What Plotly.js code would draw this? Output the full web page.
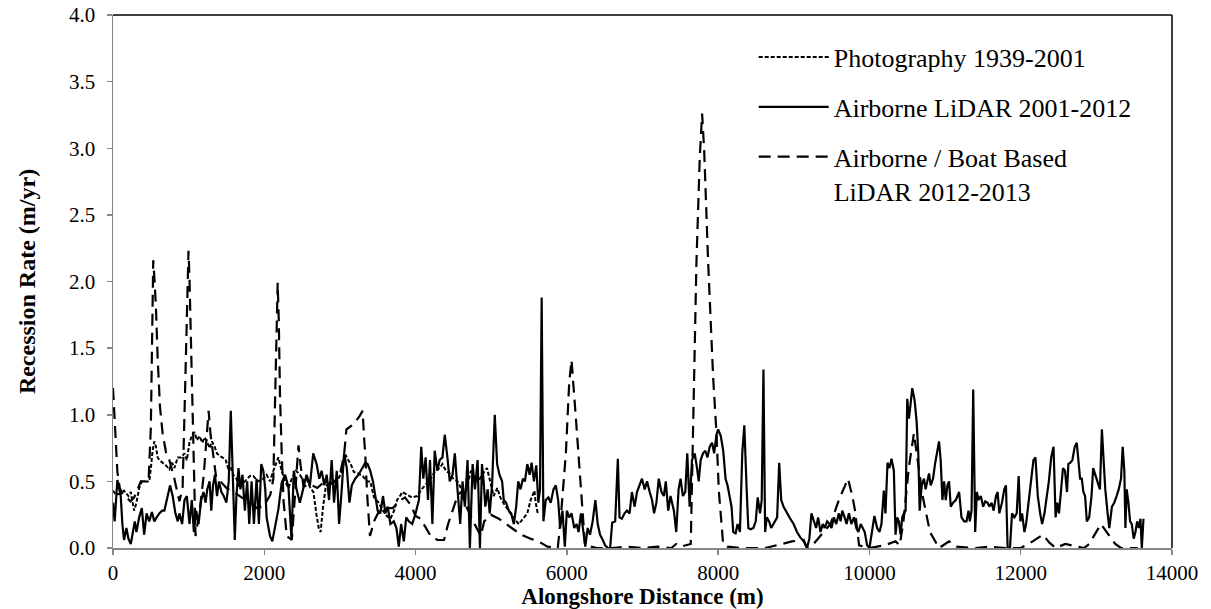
<!DOCTYPE html>
<html><head><meta charset="utf-8">
<script src="https://cdn.plot.ly/plotly-3.0.1.min.js"></script>
<style>html,body{margin:0;padding:0;background:#fff}#chart{width:1211px;height:609px}</style>
</head><body><div id="chart"></div>
<script>
// Photography 1939-2001
const photoX = [0,40,102,146,177,204,235,257,279,310,346,381,412,444,479,501,523,546,568,590,612,656,700,745,781,812,856,900,945,976,1011,1047,1078,1109,1144,1180,1211,1242,1277,1308,1344,1375,1410,1446,1490,1521,1552,1588,1632,1676,1743,1810,1854,1920,1987,2031,2075,2120,2186,2230,2275,2320,2364,2420,2470,2520,2560,2610,2650,2690,2720,2745,2775,2810,2860,2920,2980,3030,3073,3110,3150,3184,3240,3300,3360,3401,3450,3512,3570,3620,3667,3716,3756,3805,3823,3890,3950,4022,4080,4140,4200,4260,4320,4355,4400,4450,4500,4554,4600,4643,4690,4732,4780,4830,4880,4944,4990,5033,5080,5120,5170,5210,5255,5300,5366,5420,5477,5521,5550,5571,5588,5615];
const photoY = [0.43,0.40,0.41,0.43,0.41,0.39,0.42,0.34,0.28,0.34,0.45,0.50,0.50,0.50,0.50,0.60,0.73,0.80,0.76,0.68,0.66,0.64,0.62,0.59,0.64,0.60,0.68,0.68,0.71,0.66,0.79,0.85,0.87,0.81,0.84,0.79,0.83,0.80,0.75,0.80,0.76,0.71,0.69,0.68,0.66,0.60,0.61,0.55,0.52,0.45,0.50,0.54,0.54,0.50,0.52,0.55,0.50,0.58,0.68,0.58,0.50,0.45,0.52,0.58,0.55,0.50,0.52,0.45,0.42,0.25,0.15,0.12,0.30,0.45,0.50,0.48,0.52,0.58,0.70,0.66,0.62,0.57,0.56,0.54,0.50,0.50,0.38,0.34,0.28,0.24,0.22,0.28,0.36,0.40,0.42,0.40,0.38,0.39,0.44,0.48,0.52,0.58,0.60,0.63,0.58,0.56,0.52,0.50,0.45,0.39,0.48,0.58,0.52,0.50,0.55,0.60,0.48,0.39,0.45,0.38,0.33,0.30,0.26,0.22,0.18,0.22,0.26,0.36,0.40,0.43,0.34,0.26];

// Airborne LiDAR 2001-2012
const lidarX = [0,22,58,102,124,146,177,204,235,257,288,310,346,381,412,444,479,514,546,577,612,648,679,723,754,789,825,856,878,914,945,976,1011,1042,1069,1100,1131,1166,1197,1224,1246,1277,1299,1322,1348,1375,1401,1433,1464,1499,1530,1557,1588,1610,1632,1659,1685,1712,1743,1774,1801,1832,1863,1898,1929,1960,1987,2013,2031,2075,2106,2142,2186,2230,2275,2319,2359,2390,2426,2470,2514,2559,2603,2647,2692,2727,2758,2794,2825,2856,2891,2922,2958,2989,3024,3055,3091,3126,3157,3202,3246,3290,3335,3366,3401,3437,3468,3499,3534,3570,3601,3632,3667,3712,3747,3778,3809,3845,3876,3911,3956,4000,4044,4075,4102,4133,4164,4191,4222,4253,4288,4319,4355,4386,4421,4452,4488,4519,4554,4590,4621,4652,4687,4718,4754,4785,4820,4851,4878,4900,4922,4953,4980,5011,5047,5078,5109,5144,5166,5197,5233,5264,5299,5330,5357,5388,5419,5446,5477,5508,5534,5565,5596,5623,5645,5667,5690,5721,5756,5787,5823,5854,5885,5911,5942,5973,6000,6031,6062,6098,6129,6155,6186,6217,6244,6275,6306,6341,6377,6408,6439,6475,6506,6541,6572,6599,6639,6674,6696,6727,6763,6794,6829,6860,6896,6927,6962,6993,7029,7060,7095,7126,7153,7184,7215,7251,7282,7308,7340,7370,7415,7446,7477,7503,7534,7565,7592,7623,7654,7690,7721,7743,7769,7800,7831,7858,7889,7920,7947,7978,8000,8035,8067,8098,8124,8155,8177,8200,8231,8257,8288,8319,8346,8377,8399,8430,8466,8497,8523,8554,8576,8599,8621,8643,8674,8701,8732,8754,8780,8807,8834,8865,8909,8953,8998,9042,9086,9131,9175,9206,9233,9264,9295,9322,9353,9384,9410,9441,9472,9499,9530,9561,9596,9619,9641,9672,9698,9729,9761,9796,9827,9854,9885,9938,9969,10000,10035,10066,10102,10133,10159,10190,10212,10239,10265,10292,10323,10345,10367,10389,10412,10434,10456,10478,10500,10522,10544,10566,10597,10624,10646,10664,10690,10721,10743,10765,10788,10810,10841,10867,10898,10920,10942,10965,10987,11009,11031,11053,11075,11106,11142,11186,11217,11252,11283,11310,11327,11350,11372,11398,11420,11442,11473,11504,11531,11562,11584,11615,11642,11673,11695,11717,11752,11783,11805,11827,11858,11885,11916,11947,11973,11996,12018,12049,12071,12102,12137,12168,12195,12226,12257,12283,12314,12336,12372,12403,12434,12461,12483,12506,12528,12559,12585,12612,12630,12656,12683,12714,12741,12763,12785,12807,12829,12851,12874,12905,12936,12958,12985,13016,13047,13073,13095,13118,13149,13171,13206,13237,13268,13295,13326,13348,13370,13384,13401,13424,13446,13468,13494,13517,13539,13561,13583,13601,13623];
const lidarY = [0.34,0.20,0.51,0.39,0.18,0.06,0.15,0.07,0.03,0.10,0.20,0.12,0.23,0.30,0.10,0.26,0.20,0.27,0.20,0.23,0.26,0.28,0.28,0.39,0.47,0.39,0.26,0.20,0.26,0.18,0.36,0.39,0.18,0.36,0.12,0.28,0.18,0.36,0.42,0.34,0.44,0.50,0.28,0.47,0.55,0.39,0.50,0.42,0.39,0.34,0.50,1.03,0.44,0.06,0.39,0.60,0.44,0.55,0.28,0.50,0.18,0.50,0.18,0.52,0.18,0.63,0.58,0.44,0.23,0.09,0.05,0.15,0.29,0.49,0.55,0.46,0.07,0.58,0.44,0.34,0.44,0.55,0.47,0.71,0.63,0.52,0.58,0.47,0.55,0.36,0.66,0.34,0.58,0.18,0.44,0.71,0.60,0.34,0.47,0.52,0.55,0.59,0.64,0.63,0.58,0.50,0.39,0.28,0.26,0.39,0.26,0.31,0.18,0.20,0.15,0.01,0.18,0.05,0.23,0.20,0.18,0.26,0.36,0.76,0.52,0.68,0.36,0.66,0.18,0.73,0.58,0.66,0.68,0.85,0.68,0.50,0.55,0.71,0.44,0.18,0.50,0.31,0.66,0.00,0.63,0.44,0.66,0.00,0.63,0.50,0.31,0.44,0.26,0.47,1.00,0.63,0.55,0.50,0.36,0.34,0.28,0.26,0.18,0.31,0.50,0.44,0.52,0.50,0.63,0.55,0.64,0.50,0.62,0.34,0.44,1.88,0.20,0.36,0.38,0.34,0.44,0.47,0.36,0.15,0.28,0.01,0.28,0.23,0.26,0.15,0.18,0.12,0.26,0.10,0.01,0.15,0.10,0.20,0.36,0.18,0.10,0.06,0.02,0.00,0.00,0.19,0.20,0.67,0.23,0.22,0.26,0.28,0.26,0.42,0.31,0.42,0.47,0.52,0.44,0.50,0.42,0.36,0.26,0.34,0.52,0.42,0.39,0.50,0.28,0.39,0.28,0.12,0.44,0.52,0.39,0.42,0.71,0.31,0.66,0.71,0.60,0.50,0.66,0.71,0.73,0.68,0.76,0.79,0.71,0.85,0.89,0.84,0.73,0.52,0.47,0.39,0.31,0.12,0.11,0.18,0.12,0.71,0.92,0.44,0.15,0.14,0.15,0.20,0.38,0.26,0.36,1.34,0.12,0.23,0.20,0.15,0.18,0.20,0.23,0.64,0.36,0.31,0.26,0.22,0.18,0.12,0.08,0.05,0.00,0.07,0.26,0.20,0.15,0.23,0.12,0.18,0.15,0.20,0.18,0.15,0.23,0.18,0.26,0.20,0.28,0.23,0.18,0.26,0.18,0.23,0.15,0.12,0.18,0.12,0.02,0.00,0.15,0.24,0.15,0.12,0.18,0.43,0.26,0.64,0.60,0.67,0.58,0.10,0.23,0.20,0.10,0.23,0.26,0.28,1.12,0.97,1.08,1.20,1.11,0.95,0.71,0.28,0.47,0.52,0.44,0.50,0.56,0.47,0.52,0.63,0.72,0.80,0.66,0.36,0.50,0.36,0.47,0.50,0.31,0.34,0.36,0.42,0.23,0.20,0.20,0.28,0.20,0.28,1.19,0.12,0.42,0.36,0.39,0.31,0.35,0.34,0.31,0.34,0.28,0.39,0.42,0.26,0.34,0.44,0.47,0.00,0.00,0.26,0.23,0.26,0.54,0.20,0.26,0.12,0.18,0.34,0.50,0.66,0.68,0.39,0.26,0.18,0.26,0.34,0.50,0.68,0.76,0.23,0.34,0.26,0.39,0.60,0.58,0.42,0.63,0.64,0.66,0.76,0.79,0.63,0.52,0.52,0.42,0.39,0.20,0.23,0.39,0.60,0.55,0.50,0.44,0.89,0.63,0.44,0.26,0.15,0.31,0.34,0.39,0.44,0.52,0.76,0.58,0.15,0.44,0.34,0.20,0.18,0.07,0.12,0.20,0.15,0.22,0.00,0.22];

// Airborne / Boat Based LiDAR 2012-2013
const boatX = [0,30,58,90,130,180,230,280,330,368,420,470,500,515,532,550,568,590,621,656,700,745,811,878,920,945,965,990,998,1010,1047,1069,1091,1150,1200,1240,1264,1290,1320,1366,1420,1500,1600,1700,1800,1900,2000,2080,2120,2155,2177,2192,2208,2230,2255,2297,2364,2400,2452,2480,2519,2600,2700,2800,2900,3000,3055,3086,3180,3260,3300,3318,3335,3360,3397,3450,3520,3600,3700,3780,3860,3940,4000,4066,4150,4200,4290,4376,4430,4487,4560,4600,4680,4780,4862,4907,4995,5100,5200,5300,5394,5521,5654,5743,5880,5920,5987,6031,6062,6120,6164,6208,6240,6400,6600,6800,7000,7200,7380,7446,7500,7638,7669,7713,7757,7788,7815,7868,7934,7978,8009,8066,8120,8300,8500,8621,8843,8976,9131,9175,9260,9400,9485,9596,9716,9774,9810,9863,9996,10200,10345,10400,10450,10520,10588,10640,10700,10800,10892,10920,11053,11150,11400,11600,11800,12000,12159,12292,12380,12461,12590,12838,12905,13060,13149,13250,13326,13548];
const boatY = [1.20,0.90,0.57,0.45,0.40,0.38,0.35,0.38,0.45,0.50,0.50,0.50,0.90,1.60,2.16,2.00,1.80,1.43,1.06,0.86,0.72,0.66,0.52,0.35,0.45,1.00,1.55,2.10,2.23,2.05,1.14,0.57,0.09,0.30,0.55,0.85,1.03,0.85,0.72,0.52,0.50,0.45,0.42,0.38,0.35,0.30,0.32,0.40,0.52,1.57,1.99,1.70,1.14,0.72,0.35,0.09,0.06,0.35,0.77,0.62,0.46,0.48,0.45,0.50,0.48,0.55,0.70,0.89,0.93,0.99,1.03,0.84,0.70,0.40,0.09,0.20,0.28,0.30,0.30,0.35,0.38,0.32,0.24,0.22,0.14,0.09,0.06,0.06,0.18,0.28,0.40,0.42,0.30,0.18,0.09,0.20,0.25,0.22,0.18,0.14,0.10,0.07,0.04,0.01,0.00,0.23,0.71,1.24,1.41,0.97,0.63,0.26,0.02,0.00,0.00,0.01,0.00,0.01,0.00,0.03,0.01,0.03,1.00,2.14,2.93,3.26,2.99,2.14,1.28,0.86,0.43,0.03,0.01,0.00,0.00,0.00,0.03,0.05,0.06,0.00,0.03,0.12,0.18,0.36,0.52,0.39,0.28,0.02,0.00,0.02,0.05,0.02,0.20,0.60,0.86,0.65,0.40,0.12,0.02,0.00,0.05,0.01,0.00,0.01,0.00,0.00,0.05,0.10,0.04,0.00,0.03,0.00,0.03,0.18,0.11,0.03,0.00,0.00];

const xTicks = [0,2000,4000,6000,8000,10000,12000,14000];
const yTicks = [0,0.5,1,1.5,2,2.5,3,3.5,4];
const names = ['Photography 1939-2001','Airborne LiDAR 2001-2012','Airborne / Boat Based<br>LiDAR 2012-2013'];

const FONT = 'Liberation Serif';
const traces = [
  {x: photoX, y: photoY, name: names[0], mode: 'lines', legendgroup: 'a',
   line: {color: '#000', width: 2, dash: '4px,2px'}},
  {x: lidarX, y: lidarY, name: names[1], mode: 'lines', legendgroup: 'b',
   line: {color: '#000', width: 2.2}},
  {x: boatX, y: boatY, name: names[2], mode: 'lines', legendgroup: 'c',
   line: {color: '#000', width: 2.2, dash: '12px,7px'}}
];
function mkAxis(extra) {
  return Object.assign({showgrid: false, zeroline: false, showline: true, linecolor: '#868686', linewidth: 1.5,
    ticks: 'outside', ticklen: 5, tickcolor: '#868686', tickwidth: 1.5, layer: 'below traces',
    tickfont: {family: FONT, size: 21, color: '#000'}}, extra);
}
const layout = {
  width: 1211, height: 609,
  margin: {l: 113, r: 39, t: 15, b: 61},
  paper_bgcolor: '#fff', plot_bgcolor: '#fff',
  showlegend: true,
  legend: {x: 0.605, y: 0.965, xanchor: 'left', yanchor: 'top', bgcolor: 'rgba(0,0,0,0)',
    font: {family: FONT, size: 26, color: '#000'}, traceorder: 'grouped', tracegroupgap: 13,
    itemwidth: 70, valign: 'top'},
  xaxis: mkAxis({range: [0, 14000], tickvals: xTicks, ticktext: xTicks.map(String), automargin: false,
    title: {text: '<b>Alongshore Distance (m)</b>', font: {family: FONT, size: 23, color: '#000'}, standoff: 0}}),
  yaxis: mkAxis({range: [0, 4], tickvals: yTicks, ticktext: yTicks.map(v => v.toFixed(1)), automargin: false,
    ticklabelstandoff: 7,
    title: {text: '<b>Recession Rate (m/yr)</b>', font: {family: FONT, size: 24, color: '#000'}, standoff: 26}}),
  shapes: [
    {type: 'line', xref: 'paper', yref: 'paper', x0: 0, x1: 1, y0: 1, y1: 1, line: {color: '#000', width: 1.5}},
    {type: 'line', xref: 'paper', yref: 'paper', x0: 1, x1: 1, y0: 0, y1: 1, line: {color: '#000', width: 1.5}}
  ]
};
Plotly.newPlot('chart', traces, layout, {displayModeBar: false, staticPlot: true});
</script></body></html>
